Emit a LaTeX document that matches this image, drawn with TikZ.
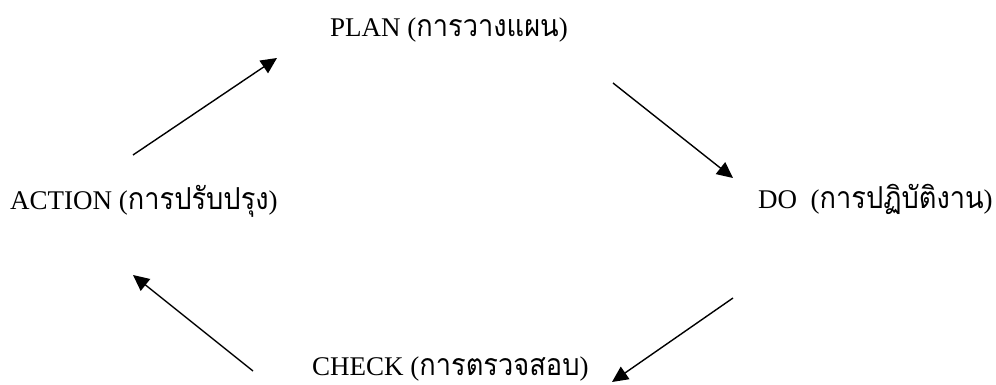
\documentclass[tikz,border=0pt]{standalone}
\usepackage{fontspec}
\setmainfont{Liberation Serif}
\newfontfamily\thaifont[Script=Thai, Scale=1.12, FakeStretch=0.9]{Loma}
\usetikzlibrary{arrows.meta}
\tikzset{
  label text/.style={font=\fontsize{27}{32}\selectfont, inner sep=0pt, anchor=base west},
  cycle arrow/.style={line width=1.4pt, -{Triangle[length=16pt, width=15pt]}}
}
\newcommand{\thtext}[1]{{\thaifont #1}}
\begin{document}
\begin{tikzpicture}[x=1pt, y=-1pt]
  \useasboundingbox (0,0) rectangle (996,385);
  % stage labels
  \node[label text] (plan)   at (330,37)  {PLAN (\thtext{การวางแผน})};
  \node[label text] (do)     at (758,208) {DO\ \ (\thtext{การปฏิบัติงาน})};
  \node[label text] (check)  at (312,375) {CHECK (\thtext{การตรวจสอบ})};
  \node[label text] (action) at (10,209)  {ACTION (\thtext{การปรับปรุง})};
  % arrow end points
  \coordinate (a1) at (133,155); \coordinate (p1) at (277,58);
  \coordinate (p2) at (613,83);  \coordinate (d1) at (733,178);
  \coordinate (d2) at (733,298); \coordinate (c1) at (612,382);
  \coordinate (c2) at (253,371); \coordinate (a2) at (133,275);
  % the cycle
  \draw[cycle arrow] (a1) -- (p1);
  \draw[cycle arrow] (p2) -- (d1);
  \draw[cycle arrow] (d2) -- (c1);
  \draw[cycle arrow] (c2) -- (a2);
\end{tikzpicture}
\end{document}
